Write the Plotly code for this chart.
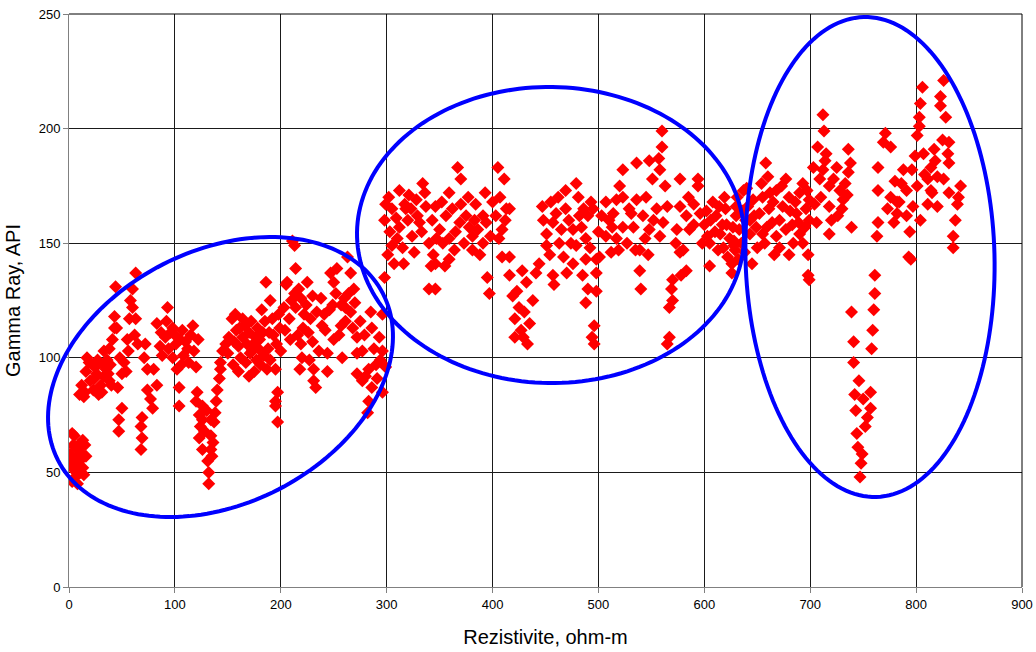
import numpy as np
import plotly.graph_objects as go

# ---------------- data ----------------
# Zone A : low resistivity (0 - 300 ohm-m)
zone_a1 = [(3,67),(13,64),(1,58),(9,57),(3,53),(13,52),(6,48),(3,46),(11,50),(8,60),(2,56),(6,54),(9,62),
           (4,62),(5,66),(7,50),(10,55),(12,58),(15,62),(16,57),(14,49),(8,45),(5,51)]
zone_a2 = [(14,83),(17,100),(16,94),(20,90),(28,84),(25,96),(33,103),(35,95),(38,90),(33,92),(22,97),(30,88),
           (10,84),(12,88),(15,85),(19,98),(23,86),(24,91),(26,93),(27,99),(31,85),(32,97),(36,99),(37,93),(40,88),(39,97)]
zone_a3 = [(44,131),(43,118),(43,113),(41,108),(38,104),(46,87),(50,78),(47,73),(47,68),(63,137),(60,130),(58,125),
           (60,122),(57,117),(63,117),(55,108),(52,98),(54,94),(65,106),(72,106),(69,74),(68,70),(69,65),(68,60),
           (71,100),(74,95),(80,95),(74,86),(77,82),(79,78),(83,88),(45,113),(48,100),(56,103),(62,110),(50,93)]
zone_a4 = [(93,122),(83,115),(87,111),(91,109),(96,111),(94,104),(101,106),(98,100),(102,95),(104,87),(104,79),
           (107,112),(117,114),(115,110),(112,104),(118,103),(120,96),(110,107),(86,105),(92,116),(98,113),(105,108),
           (108,101),(113,98),(100,110),(88,101),(122,108),(106,97)]
zone_a5 = [(121,85),(120,81),(126,79),(123,75),(126,73),(134,73),(137,72),(123,65),(134,66),(126,60),(134,60),
           (135,57),(132,50),(132,45),(139,81),(140,86),(142,91),(143,98),(145,103),(148,106),(143,95),(128,68),
           (130,77),(136,63),(124,70),(131,55),(138,76)]
zone_a6 = [(151,109),(154,117),(157,119),(164,117),(161,113),(156,107),(164,109),(170,111),(168,106),(176,109),
           (183,111),(179,104),(173,103),(170,92),(184,101),(187,95),(189,111),(186,133),(192,117),(195,95),(197,85),
           (195,81),(195,79),(197,72),(200,103),(198,119),(150,102),(155,97),(158,112),(160,105),(162,100),(166,114),
           (167,98),(172,116),(174,106),(177,99),(178,113),(180,108),(181,97),(185,116),(188,104),(190,99),(193,110),
           (196,106),(199,113),(160,94),(175,94),(182,121),(190,125),(171,102)]
zone_a7 = [(203,122),(205,132),(206,133),(211,151),(213,149),(214,139),(213,128),(214,122),(219,126),(222,119),
           (225,133),(224,123),(230,127),(216,110),(219,106),(220,100),(230,107),(231,95),(231,90),(228,117),(238,126),
           (241,119),(239,114),(236,103),(242,112),(244,102),(244,94),(233,87),(208,117),(210,125),(217,130),(221,113),
           (226,111),(209,108),(234,120),(227,99),(204,112),(218,95)]
zone_a8 = [(247,137),(253,139),(250,133),(249,123),(257,123),(260,126),(261,122),(257,114),(261,116),(263,144),
           (266,137),(269,130),(266,120),(275,116),(272,109),(272,102),(277,103),(272,93),(280,92),(283,95),(290,97),
           (293,109),(296,103),(296,119),(298,135),(283,81),(282,76),(286,87),(296,85),(277,90),(246,121),(252,128),
           (255,110),(264,128),(268,113),(270,124),(279,110),(285,120),(288,104),(291,91),(294,99),(250,108),(258,100),
           (286,113),(299,96)]

# Zone B : medium resistivity (300 - 640 ohm-m)
zone_b1 = [(299,167),(298,160),(305,149),(307,141),(316,141),(312,173),(302,170),(305,165),(312,157),(318,165),
           (323,165),(324,153),(328,169),(331,159),(334,176),(337,166),(340,150),(342,140),(346,141),(340,130),
           (346,130),(346,166),(350,156),(303,155),(309,161),(315,148),(320,160),(326,146),(329,162),(333,155),
           (336,172),(343,160),(347,152),(310,152),(321,171),(344,145),(301,145),(317,167)]
zone_b2 = [(367,183),(370,178),(359,172),(370,167),(356,162),(369,159),(359,143),(359,152),(381,153),(381,147),
           (391,150),(395,135),(397,128),(405,183),(411,178),(416,165),(409,156),(406,152),(409,144),(416,144),
           (391,162),(403,162),(378,157),(384,167),(394,159),(375,162),(353,150),(362,165),(365,155),(373,150),
           (377,170),(386,156),(388,145),(398,153),(400,168),(364,147),(383,160),(352,168),(393,172),(412,160),
           (407,170),(355,140)]
zone_b3 = [(428,138),(441,137),(432,133),(419,127),(425,122),(430,120),(435,115),(421,117),(421,109),(433,106),
           (427,112),(458,132),(457,136),(444,141),(451,149),(447,166),(457,159),(451,154),(423,129),(438,125),
           (429,109),(416,136),(413,165),(448,160),(454,145)]
zone_b4 = [(469,173),(479,176),(469,165),(482,162),(476,156),(463,150),(479,149),(488,152),(476,141),(488,143),
           (485,136),(498,143),(498,137),(490,130),(498,129),(488,124),(496,114),(494,109),(496,106),(495,165),
           (490,162),(460,163),(465,156),(472,160),(474,150),(484,157),(493,168),(467,144),(481,170),(492,148),
           (462,170),(486,165),(470,137),(500,155),(455,168)]
zone_b5 = [(507,168),(517,169),(523,170),(514,163),(507,153),(517,152),(523,157),(529,165),(536,169),(533,157),
           (542,162),(548,156),(555,165),(539,147),(547,145),(539,138),(540,130),(512,146),(519,147),(501,144),
           (523,182),(536,185),(548,186),(560,199),(560,192),(557,187),(558,182),(551,178),(563,175),(561,159),
           (558,153),(510,160),(527,150),(531,163),(545,170),(552,160),(503,162),(520,175),(544,152),(565,166),
           (513,157),(535,147)]
zone_b6 = [(577,178),(594,178),(594,175),(577,166),(590,167),(583,162),(586,156),(574,156),(596,163),(577,146),
           (583,138),(578,136),(570,134),(569,130),(570,125),(567,122),(567,109),(565,106),(580,147),(605,150),
           (605,140),(615,154),(611,162),(620,165),(622,144),(626,137),(629,147),(633,156),(637,173),(600,158),
           (608,168),(613,147),(617,158),(624,152),(630,162),(635,150),(590,158),(598,150),(602,164),(619,170),
           (627,157),(573,150),(585,170),(610,155),(632,143),(639,160),(606,160),(614,166),(621,158),(628,151),
           (636,164),(603,153),(618,148),(631,170),(638,146)]

# Zone C : high resistivity (640 - 845 ohm-m)
zone_c1 = [(658,185),(660,179),(677,178),(693,176),(646,169),(655,170),(668,173),(680,170),(690,172),(699,169),
           (630,166),(661,165),(674,166),(687,163),(699,160),(652,163),(643,160),(655,154),(668,153),(677,156),
           (690,154),(693,150),(671,148),(680,145),(643,154),(645,141),(628,149),(626,141),(641,166),(649,157),
           (664,159),(683,158),(696,165),(650,148),(662,172),(671,160),(686,168),(640,174),(657,150),(695,157),
           (684,150),(666,145),(647,162),(654,176),(665,168),(673,175),(681,164),(689,159),(697,173),(659,157)]
zone_c2 = [(712,206),(713,199),(707,192),(715,189),(703,183),(712,182),(725,183),(736,191),(738,185),(736,181),
           (709,178),(718,175),(728,173),(731,169),(704,167),(718,166),(726,162),(739,157),(718,154),(698,145),
           (698,136),(699,134),(722,178),(733,176),(710,170),(720,160),(706,159),(730,165),(714,186),(735,171)]
zone_c3 = [(761,136),(761,128),(760,121),(739,120),(759,112),(758,104),(741,107),(741,98),(742,84),(757,85),
           (750,82),(743,77),(757,78),(754,74),(752,70),(744,67),(745,61),(749,58),(748,54),(747,48),(746,90)]
zone_c4 = [(806,218),(826,221),(823,214),(823,210),(804,211),(803,205),(828,205),(803,201),(801,197),(771,198),
           (769,194),(776,192),(799,188),(807,189),(817,191),(825,195),(831,194),(830,189),(764,183),(788,182),
           (796,182),(814,183),(831,185),(780,177),(791,173),(811,178),(820,179),(814,173),(764,173),(776,170),
           (784,168),(801,175),(842,175),(831,172),(811,167),(820,166),(839,167),(782,163),(791,162),(837,160),
           (779,159),(764,159),(763,153),(794,155),(835,153),(835,148),(793,144),(795,143),(782,168),(818,186),
           (808,180),(826,178),(786,176),(797,166),(804,160),(815,172),(773,165),(840,170)]

# ---------------- figure geometry ----------------
W, H = 1036, 652
L, R, T, B = 69, 14, 14, 65
PW, PH = W - L - R, H - T - B
X_RANGE = [0, 900]
Y_RANGE = [0, 250]

all_points = (zone_a1 + zone_a2 + zone_a3 + zone_a4 + zone_a5 + zone_a6 + zone_a7 + zone_a8 +
              zone_b1 + zone_b2 + zone_b3 + zone_b4 + zone_b5 + zone_b6 +
              zone_c1 + zone_c2 + zone_c3 + zone_c4)
resistivity = [p[0] for p in all_points]
gamma_ray = [p[1] for p in all_points]

fig = go.Figure()
fig.add_trace(go.Scatter(
    x=resistivity, y=gamma_ray, mode="markers",
    marker=dict(symbol="diamond", size=10, color="#FF0000", line=dict(width=0)),
    showlegend=False, hoverinfo="x+y"))

# Hand-drawn ellipses (in pixel space of the plot area: centre, semi-axes, tilt in degrees)
ellipses = [
    dict(cx=220.5 - L, cy=377 - T, a=182.6, b=126.5, ang=27.1),
    dict(cx=550.5 - L, cy=235 - T, a=193.5, b=148.0, ang=-0.8),
    dict(cx=870 - L, cy=257 - T, a=124.5, b=240.0, ang=1.5),
]
t = np.linspace(0, 2 * np.pi, 181)
for e in ellipses:
    th = np.radians(e["ang"])
    px = e["cx"] + e["a"] * np.cos(t) * np.cos(th) - e["b"] * np.sin(t) * np.sin(th)
    py = e["cy"] - (e["a"] * np.cos(t) * np.sin(th) + e["b"] * np.sin(t) * np.cos(th))
    xp = px / PW
    yp = 1 - py / PH
    path = "M " + " L ".join(f"{a:.5f},{b:.5f}" for a, b in zip(xp, yp)) + " Z"
    fig.add_shape(type="path", path=path, xref="paper", yref="paper",
                  line=dict(color="#0000FF", width=4), fillcolor="rgba(0,0,0,0)", layer="above")

# frame lines at top and right (gridline style)
fig.add_shape(type="line", xref="paper", yref="paper", x0=1, x1=1, y0=0, y1=1,
              line=dict(color="#000000", width=1))
fig.add_shape(type="line", xref="paper", yref="paper", x0=0, x1=1, y0=1, y1=1,
              line=dict(color="#000000", width=1))

axis_font = dict(family="Liberation Sans, Arial, sans-serif", size=13, color="#000000")
title_font = dict(family="Liberation Sans, Arial, sans-serif", size=20, color="#000000")

fig.update_layout(
    width=W, height=H,
    margin=dict(l=L, r=R, t=T, b=B, pad=0, autoexpand=False),
    paper_bgcolor="white", plot_bgcolor="white",
    font=axis_font,
    xaxis=dict(range=X_RANGE, dtick=100, tick0=0, showgrid=True, gridcolor="#1a1a1a", gridwidth=1,
               zeroline=False, showline=True, linecolor="#808080", linewidth=1, automargin=False,
               ticks="outside", ticklen=5, tickcolor="#808080", tickfont=axis_font,
               title=dict(text="Rezistivite, ohm-m", font=title_font, standoff=19)),
    yaxis=dict(range=Y_RANGE, dtick=50, tick0=0, showgrid=True, gridcolor="#1a1a1a", gridwidth=1,
               zeroline=False, showline=True, linecolor="#808080", linewidth=1, automargin=False,
               ticks="outside", ticklen=5, tickcolor="#808080", tickfont=axis_font,
               title=dict(text="Gamma Ray, API", font=title_font, standoff=12)),
)

fig.write_html("out.html")
